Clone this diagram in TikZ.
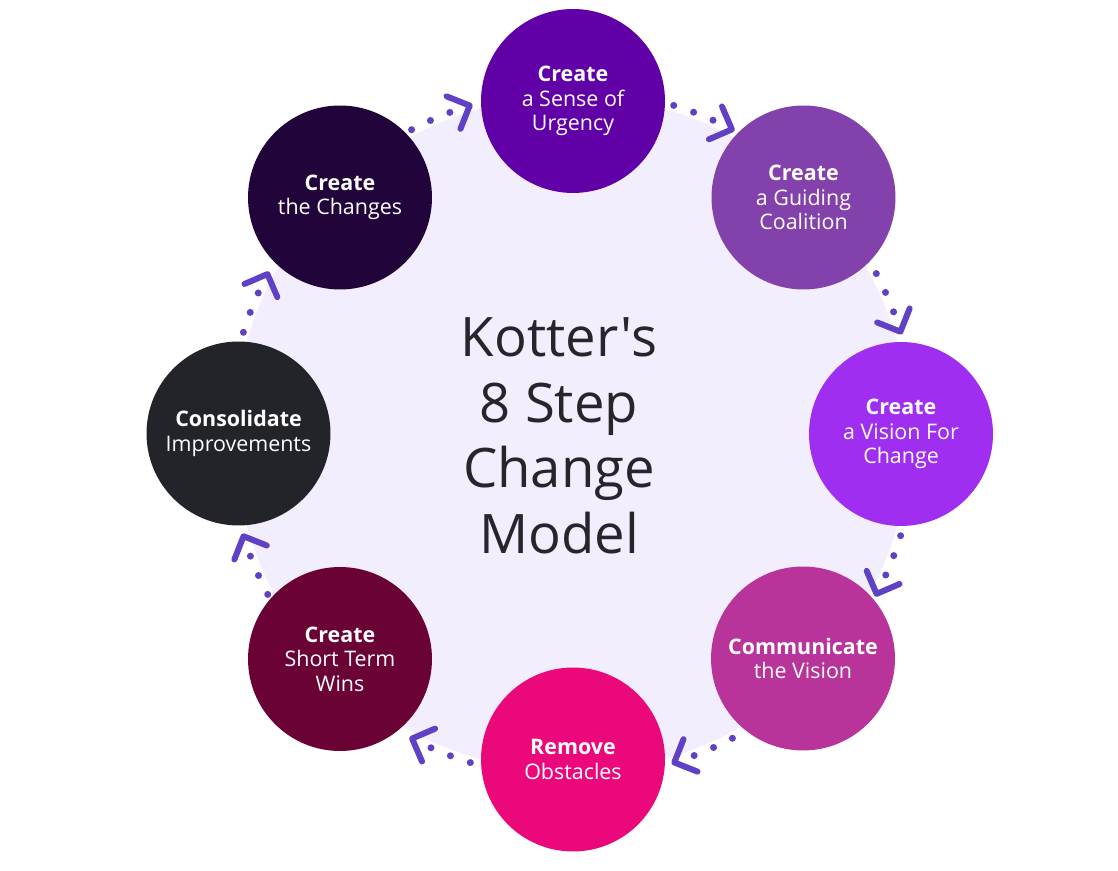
\documentclass[tikz,border=0pt]{standalone}
\usepackage{fontspec}
\setmainfont{Open Sans}
\newfontfamily\titlefont{Open Sans}[Ligatures=TeXOff]
\definecolor{urgency}{HTML}{6200A8}
\definecolor{coalition}{HTML}{8241AB}
\definecolor{vision}{HTML}{A02EF0}
\definecolor{communicate}{HTML}{B8349A}
\definecolor{obstacles}{HTML}{EA087B}
\definecolor{wins}{HTML}{6B0236}
\definecolor{consolidate}{HTML}{232429}
\definecolor{changes}{HTML}{210439}
\definecolor{ringfill}{HTML}{F3EEFD}
\definecolor{arrowcol}{HTML}{6040C4}
\definecolor{titlecol}{HTML}{27242C}
\begin{document}
\begin{tikzpicture}[x=0.02cm,y=0.02cm,
  stepdisc/.style={circle,minimum size=3.68cm,inner sep=0pt,text=white,align=center,
    font=\fontsize{12.2}{14}\selectfont},
  chevron/.style={arrowcol,line width=0.12cm,line cap=round,line join=round}]
\useasboundingbox[fill=white] (0,0) rectangle (1118,871);
\coordinate (ctr) at (572,437);
\fill[ringfill] (ctr) circle[radius=6.76cm];

\node[stepdisc,fill=urgency] (urgency) at (573,770) {\textbf{Create}\\a Sense of\\Urgency};
\node[stepdisc,fill=coalition] (coalition) at (803.5,673.5) {\textbf{Create}\\a Guiding\\Coalition};
\node[stepdisc,fill=vision] (vision) at (901,437) {\textbf{Create}\\a Vision For\\Change};
\node[stepdisc,fill=communicate] (communicate) at (803,212.5) {\textbf{Communicate}\\the Vision};
\node[stepdisc,fill=obstacles] (obstacles) at (573,111.5) {\textbf{Remove}\\Obstacles};
\node[stepdisc,fill=wins] (wins) at (340,212) {\textbf{Create}\\Short Term\\Wins};
\node[stepdisc,fill=consolidate] (consolidate) at (238.5,437.5) {\textbf{Consolidate}\\Improvements};
\node[stepdisc,fill=changes] (changes) at (340,673.5) {\textbf{Create}\\the Changes};

\node[text=titlecol,align=center,font=\titlefont\fontsize{31}{37.3}\selectfont] (title) at (559,435)
  {Kotter's\\8 Step\\Change\\Model};

% dotted arrows, clockwise
\foreach \a in {135,90,...,-180}{
  \foreach \d in {17.2,20.7,24.2}
    \fill[arrowcol] (ctr) ++(\a-\d:344) circle[radius=0.07cm];
  \begin{scope}[shift={(ctr)},rotate=\a-27.7]
    \draw[chevron] (359.7,19.4) -- (344,0) -- (324.6,15.7);
  \end{scope}
}
\end{tikzpicture}
\end{document}
